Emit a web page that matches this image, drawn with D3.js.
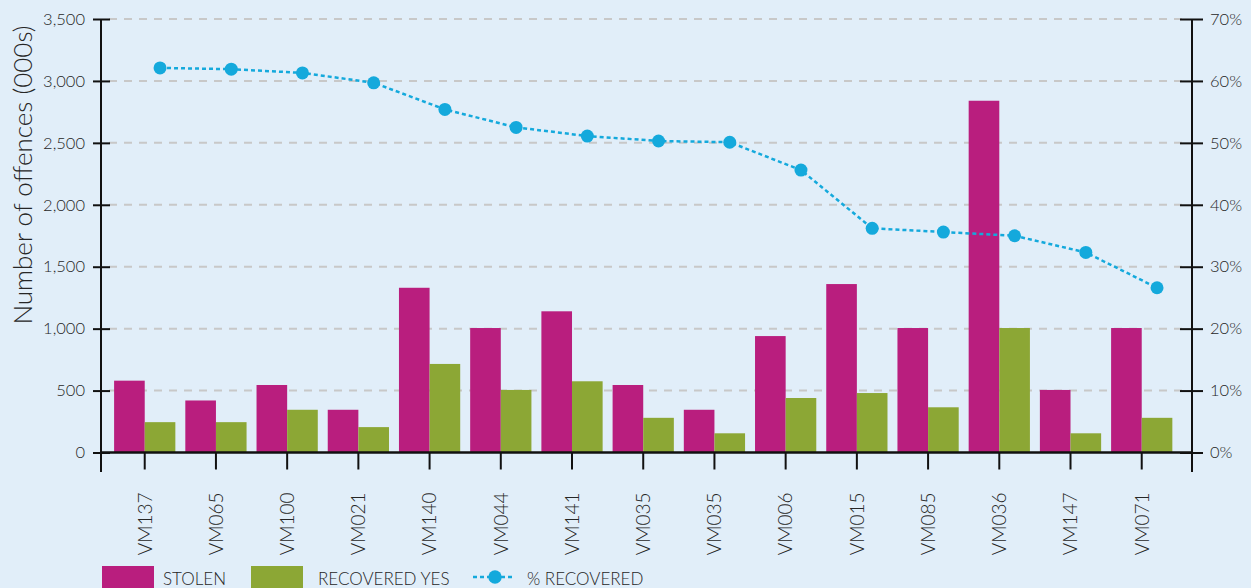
<!DOCTYPE html>
<html>
<head>
<meta charset="utf-8">
<script src="https://cdn.jsdelivr.net/npm/d3@7"></script>
<style>
  body { margin: 0; background: #e1eef9; }
  svg text { font-family: Lato, "Open Sans", sans-serif; font-weight: 300; fill: #262626; }
</style>
</head>
<body>
<svg id="chart" width="1251" height="588"></svg>
<script>
const categories = ['VM137', 'VM065', 'VM100', 'VM021', 'VM140', 'VM044', 'VM141', 'VM035', 'VM035 ', 'VM006', 'VM015', 'VM085', 'VM036', 'VM147', 'VM071'];
const stolen = [580, 420, 545, 345, 1330, 1005, 1140, 545, 345, 940, 1360, 1005, 2840, 505, 1005];
const recovered = [245, 245, 345, 205, 715, 505, 575, 280, 155, 440, 480, 365, 1005, 155, 280];
const pctRecovered = [62.1, 61.9, 61.3, 59.7, 55.4, 52.5, 51.1, 50.3, 50.1, 45.6, 36.2, 35.6, 35.0, 32.3, 26.6];
const leftTicks = [0, 500, 1000, 1500, 2000, 2500, 3000, 3500];
const rightTicks = [0, 10, 20, 30, 40, 50, 60, 70];

const colStolen = '#b91e7e';
const colRecovered = '#8ca735';
const colLine = '#14a9dc';

const svg = d3.select('#chart');
const plotL = 101, plotR = 1192, plotT = 19, plotB = 452.5;

svg.append('rect').attr('width', 1251).attr('height', 588).attr('fill', '#e1eef9');

const x = d3.scaleBand().domain(categories).range([plotL, plotR])
  .paddingInner(0.14).paddingOuter(0.23).align(0.4);
const bw = x.bandwidth();
const y = d3.scaleLinear().domain([0, 3500]).range([plotB, plotT]);
const yR = d3.scaleLinear().domain([0, 70]).range([plotB, plotT]);

// gridlines
svg.append('g').selectAll('line').data(leftTicks.slice(1)).enter().append('line')
  .attr('x1', plotL + 8).attr('x2', plotR - 8)
  .attr('y1', d => y(d)).attr('y2', d => y(d))
  .attr('stroke', '#c8c8c8').attr('stroke-width', 2).attr('stroke-dasharray', '8,7');

// bars
const groups = svg.append('g').selectAll('g').data(categories).enter().append('g');
groups.append('rect')
  .attr('x', d => x(d)).attr('width', bw / 2)
  .attr('y', (d, i) => y(stolen[i])).attr('height', (d, i) => plotB - y(stolen[i]))
  .attr('fill', colStolen);
groups.append('rect')
  .attr('x', d => x(d) + bw / 2).attr('width', bw / 2)
  .attr('y', (d, i) => y(recovered[i])).attr('height', (d, i) => plotB - y(recovered[i]))
  .attr('fill', colRecovered);

// left axis
const gl = svg.append('g').attr('transform', `translate(${plotL},0)`)
  .call(d3.axisLeft(y).tickValues(leftTicks).tickSize(8).tickPadding(8).tickFormat(d3.format(',')));
gl.select('.domain').remove();
gl.selectAll('.tick line').attr('x1', 9).attr('stroke', '#111').attr('stroke-width', 2);
gl.selectAll('.tick text').style('font-size', '16.5px');
svg.append('line').attr('x1', plotL).attr('x2', plotL).attr('y1', plotT).attr('y2', 472)
  .attr('stroke', '#111').attr('stroke-width', 2);

// right axis
const gr = svg.append('g').attr('transform', `translate(${plotR},0)`)
  .call(d3.axisRight(yR).tickValues(rightTicks).tickSize(11).tickPadding(7).tickFormat(d => d + '%'));
gr.select('.domain').remove();
gr.selectAll('.tick line').attr('x1', -12).attr('stroke', '#111').attr('stroke-width', 2);
gr.selectAll('.tick text').style('font-size', '16.5px');
svg.append('line').attr('x1', plotR).attr('x2', plotR).attr('y1', plotT).attr('y2', 472)
  .attr('stroke', '#111').attr('stroke-width', 2);

// bottom axis
const gb = svg.append('g').attr('transform', `translate(0,${plotB})`)
  .call(d3.axisBottom(x).tickSize(17).tickFormat(d => d.trim()));
gb.select('.domain').remove();
gb.selectAll('.tick line').attr('stroke', '#111').attr('stroke-width', 2);
gb.selectAll('.tick text')
  .attr('transform', 'rotate(-90)')
  .attr('x', -40).attr('y', 0).attr('dy', '0.36em')
  .attr('text-anchor', 'end')
  .style('font-size', '19px');
svg.append('line').attr('x1', plotL).attr('x2', plotR).attr('y1', plotB).attr('y2', plotB)
  .attr('stroke', '#111').attr('stroke-width', 2.5);

// % recovered line
const px = i => x(categories[i]) + bw * 0.75;
const line = d3.line().x((d, i) => px(i)).y(d => yR(d));
svg.append('path').datum(pctRecovered).attr('d', line)
  .attr('fill', 'none').attr('stroke', colLine).attr('stroke-width', 2.5).attr('stroke-dasharray', '4,3');
svg.append('g').selectAll('circle').data(pctRecovered).enter().append('circle')
  .attr('cx', (d, i) => px(i)).attr('cy', d => yR(d)).attr('r', 6.5).attr('fill', colLine);

// y title
svg.append('text').attr('transform', 'translate(32,175) rotate(-90)')
  .attr('text-anchor', 'middle').style('font-size', '26px')
  .text('Number of offences (000s)');

// legend
const lg = svg.append('g');
lg.append('rect').attr('x', 102).attr('y', 566).attr('width', 52).attr('height', 22).attr('fill', colStolen);
lg.append('text').attr('x', 163).attr('y', 585).style('font-size', '17px').text('STOLEN');
lg.append('rect').attr('x', 251).attr('y', 566).attr('width', 52).attr('height', 22).attr('fill', colRecovered);
lg.append('text').attr('x', 318).attr('y', 585).style('font-size', '17px').text('RECOVERED YES');
lg.append('line').attr('x1', 473).attr('x2', 515).attr('y1', 577).attr('y2', 577)
  .attr('stroke', colLine).attr('stroke-width', 2.5).attr('stroke-dasharray', '4,3');
lg.append('circle').attr('cx', 495).attr('cy', 577).attr('r', 6.7).attr('fill', colLine);
lg.append('text').attr('x', 527).attr('y', 585).style('font-size', '17px').text('% RECOVERED');
</script>
</body>
</html>
